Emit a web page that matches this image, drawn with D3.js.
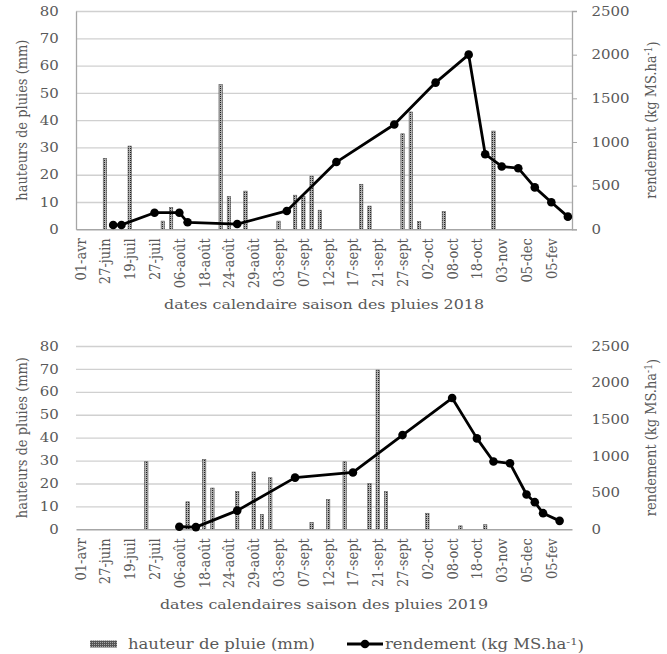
<!DOCTYPE html>
<html>
<head>
<meta charset="utf-8">
<script src="https://cdn.jsdelivr.net/npm/d3@7"></script>
<style>
body { margin: 0; background: #fff; }
text { font-family: 'DejaVu Serif', serif; fill: #595959; }
</style>
</head>
<body>
<svg width="667" height="654"></svg>
<script>
// category labels, one every 3 days of the 60-position axis
var labels = ['01-avr', '27-juin', '19-juil', '27-juil', '06-août', '18-août', '24-août',
  '29-août', '03-sept', '07-sept', '12-sept', '17-sept', '21-sept', '27-sept', '02-oct',
  '08-oct', '18-oct', '03-nov', '05-dec', '05-fev'];

// 2018: rain (mm) and yield (kg MS/ha), by axis position
var rainPos2018 = [3, 6, 10, 11, 17, 18, 20, 24, 26, 27, 28, 29, 34, 35, 39, 40, 41, 44, 50];
var rain2018 = [26, 30.5, 3, 8, 53, 12, 14, 3, 12.5, 12, 19.5, 7, 16.5, 8.5, 35, 43, 2.8, 6.5, 36];
var yieldPos2018 = [4, 5, 9, 12, 13, 19, 25, 31, 38, 43, 47, 49, 51, 53, 55, 57, 59];
var yield2018 = [50, 50, 190, 190, 80, 60, 210, 770, 1200, 1680, 2000, 860, 720, 700, 480, 310, 145];

// 2019
var rainPos2019 = [8, 13, 15, 16, 19, 21, 22, 23, 28, 30, 32, 35, 36, 37, 42, 46, 49];
var rain2019 = [29.5, 12, 30.5, 18, 16.5, 25, 6.5, 22.5, 3, 13, 29.5, 20, 69.5, 16.5, 7, 1.5, 2];
var yieldPos2019 = [12, 14, 19, 26, 33, 39, 45, 48, 50, 52, 54, 55, 56, 58];
var yield2019 = [35, 30, 255, 705, 775, 1285, 1790, 1240, 925, 900, 475, 370, 220, 115];

var rainTicks = d3.range(0, 90, 10);
var yieldTicks = d3.range(0, 3000, 500);

var svg = d3.select('svg');
var sx = 1.15;      // picture is a bit wide, stretch the text
var fs = 13;
var left = 76, right = 572;

var x = d3.scaleBand()
  .domain(d3.range(60))
  .range([left, right]);
var bw = x.bandwidth();

var defs = svg.append('defs');
var pat = defs.append('pattern')
  .attr('id', 'dots')
  .attr('width', 2).attr('height', 2)
  .attr('patternUnits', 'userSpaceOnUse');
pat.append('rect').attr('width', 2).attr('height', 2).attr('fill', '#b0b0b0');
pat.append('rect').attr('width', 1).attr('height', 1).attr('fill', '#222');

var pat2 = defs.append('pattern')
  .attr('id', 'dots2')
  .attr('width', 2).attr('height', 2)
  .attr('patternUnits', 'userSpaceOnUse');
pat2.append('rect').attr('width', 2).attr('height', 2).attr('fill', '#555');
pat2.append('rect').attr('width', 1).attr('height', 1).attr('fill', '#aaa');

function panel(top, bottom, rainPos, rain, yieldPos, yields, title, framed) {
  var y = d3.scaleLinear().domain([0, 80]).range([bottom, top]);
  var y2 = d3.scaleLinear().domain([0, 2500]).range([bottom, top]);
  var g = svg.append('g');

  // gridlines
  g.append('g')
    .attr('transform', 'translate(' + left + ',0)')
    .call(d3.axisLeft(y).tickValues(rainTicks.slice(1)).tickSize(-(right - left)).tickFormat(''))
    .call(a => a.select('.domain').remove())
    .selectAll('line')
    .attr('stroke', '#d0d0d0')
    .attr('stroke-width', 1.3);

  // left axis
  var la = g.append('g')
    .attr('transform', 'translate(' + left + ',0)')
    .call(d3.axisLeft(y).tickValues(rainTicks).tickSize(0));
  la.select('.domain').attr('stroke', framed ? '#a6a6a6' : 'none').attr('stroke-width', 1.3);
  la.selectAll('text')
    .attr('x', -15)
    .attr('transform', 'scale(' + sx + ',1)')
    .style('font-size', fs + 'px')
    .style('font-family', "'DejaVu Serif', serif")
    .attr('fill', '#595959');

  // right axis
  var ra = g.append('g')
    .attr('transform', 'translate(' + right + ',0)')
    .call(d3.axisRight(y2).tickValues(yieldTicks).tickSize(framed ? 5 : 0).tickFormat(d3.format('d')));
  ra.select('.domain').attr('stroke', framed ? '#a6a6a6' : 'none').attr('stroke-width', 1.3);
  ra.selectAll('line').attr('stroke', '#a6a6a6');
  ra.selectAll('text')
    .attr('x', 17)
    .attr('transform', 'scale(' + sx + ',1)')
    .style('font-size', fs + 'px')
    .style('font-family', "'DejaVu Serif', serif")
    .attr('fill', '#595959');

  // bars
  g.selectAll('rect.bar')
    .data(rain)
    .enter()
    .append('rect')
    .attr('class', 'bar')
    .attr('x', (d, i) => x(rainPos[i]) + bw / 2 - 1.7)
    .attr('width', 3.4)
    .attr('y', d => y(d))
    .attr('height', d => bottom - y(d))
    .attr('fill', 'url(#dots)')
    .attr('stroke', '#555')
    .attr('stroke-width', 0.6);

  // bottom axis
  var ba = g.append('g')
    .attr('transform', 'translate(0,' + bottom + ')')
    .call(d3.axisBottom(x).tickValues(d3.range(0, 60, 3)).tickSize(0)
      .tickFormat(d => labels[d / 3]));
  ba.select('.domain').attr('stroke', '#a6a6a6').attr('stroke-width', 1.5);
  ba.selectAll('text')
    .attr('transform', 'scale(' + sx + ',1) rotate(-90)')
    .attr('x', -9)
    .attr('y', 0)
    .attr('dy', '0.36em')
    .style('text-anchor', 'end')
    .style('font-size', fs + 'px')
    .style('font-family', "'DejaVu Serif', serif")
    .attr('fill', '#595959');

  // yield line
  var pts = yields.map((v, i) => [x(yieldPos[i]) + bw / 2, y2(v)]);
  g.append('path')
    .attr('d', d3.line()(pts))
    .attr('fill', 'none')
    .attr('stroke', '#000')
    .attr('stroke-width', 2.8)
    .attr('stroke-linejoin', 'round');
  g.selectAll('circle')
    .data(pts)
    .enter()
    .append('circle')
    .attr('cx', d => d[0])
    .attr('cy', d => d[1])
    .attr('r', 4.3)
    .attr('fill', '#000');

  var cy = (top + bottom) / 2;
  g.append('text')
    .attr('transform', 'translate(22,' + cy + ') scale(' + sx + ',1) rotate(-90)')
    .attr('dy', '0.35em')
    .style('text-anchor', 'middle')
    .style('font-size', fs + 'px')
    .text('hauteurs de pluies (mm)');

  var rt = g.append('text')
    .attr('transform', 'translate(651,' + cy + ') scale(' + sx + ',1) rotate(-90)')
    .attr('dy', '0.35em')
    .style('text-anchor', 'middle')
    .style('font-size', fs + 'px');
  rt.append('tspan').text('rendement (kg MS.ha');
  rt.append('tspan').attr('dy', '-0.45em').style('font-size', '9px').text('-1');
  rt.append('tspan').attr('dy', '0.45em').text(')');

  g.append('text')
    .attr('transform', 'translate(324,' + (bottom + 80) + ') scale(' + sx + ',1)')
    .style('text-anchor', 'middle')
    .style('font-size', '13.8px')
    .text(title);
}

panel(11, 229.3, rainPos2018, rain2018, yieldPos2018, yield2018,
  'dates calendaire saison des pluies 2018', true);
panel(346, 529.3, rainPos2019, rain2019, yieldPos2019, yield2019,
  'dates calendaires saison des pluies 2019', false);

// legend
var ly = 644;
svg.append('rect')
  .attr('x', 90).attr('y', ly - 3.5)
  .attr('width', 27).attr('height', 7)
  .attr('fill', 'url(#dots2)');
svg.append('text')
  .attr('transform', 'translate(128,' + (ly + 5) + ') scale(' + sx + ',1)')
  .style('font-size', '14.3px')
  .text('hauteur de pluie (mm)');
svg.append('line')
  .attr('x1', 347).attr('x2', 383)
  .attr('y1', ly).attr('y2', ly)
  .attr('stroke', '#000').attr('stroke-width', 2.8);
svg.append('circle')
  .attr('cx', 365).attr('cy', ly).attr('r', 4.3).attr('fill', '#000');
var lt = svg.append('text')
  .attr('transform', 'translate(385,' + (ly + 5) + ') scale(' + sx + ',1)')
  .style('font-size', '14.3px');
lt.append('tspan').text('rendement (kg MS.ha');
lt.append('tspan').attr('dy', '-0.45em').style('font-size', '10px').text('-1');
lt.append('tspan').attr('dy', '0.45em').text(')');
</script>
</body>
</html>
